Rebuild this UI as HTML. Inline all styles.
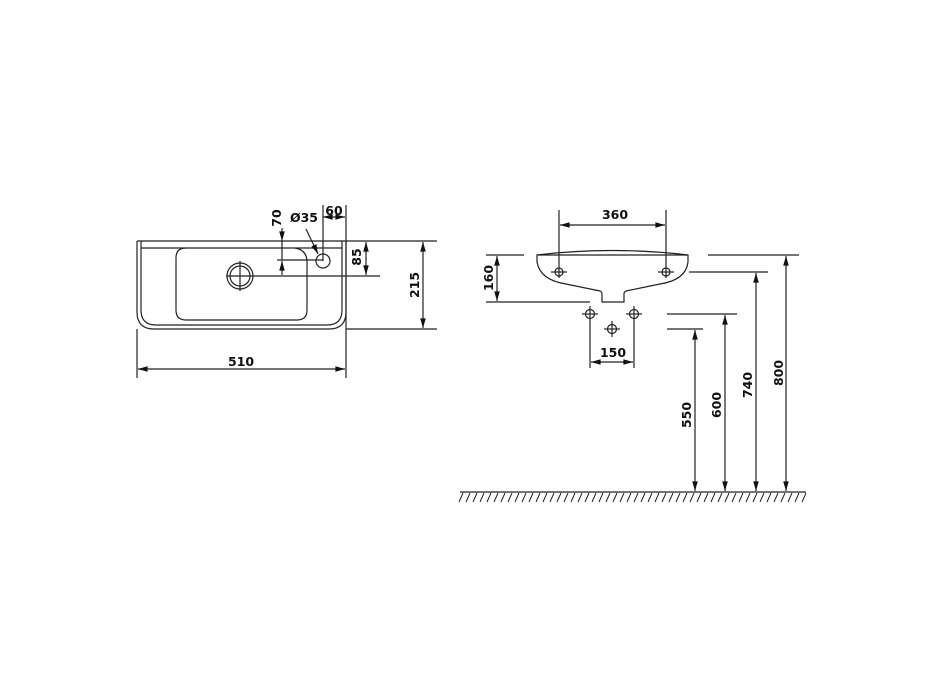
<!DOCTYPE html>
<html><head><meta charset="utf-8"><style>
html,body{margin:0;padding:0;background:#fff;}
svg{display:block;}
text{font-family:"DejaVu Sans","Liberation Sans",sans-serif;font-size:12.5px;font-weight:bold;fill:#111;}
</style></head><body>
<svg width="928" height="686" viewBox="0 0 928 686" xmlns="http://www.w3.org/2000/svg">
<defs>
<marker id="a" viewBox="0 0 12 10" refX="12" refY="5" markerWidth="10" markerHeight="8" orient="auto-start-reverse" markerUnits="userSpaceOnUse"><path d="M0,1.5 L12,5 L0,8.5 z" fill="#111"/></marker>
</defs>
<g stroke="#222" stroke-width="1.2" fill="none">
<path d="M137,241 L137,312 Q137,329 154,329 L329,329 Q346,329 346,312 L346,241"/>
<path d="M141,241 L141,310 Q141,325 156,325 L327,325 Q342,325 342,310 L342,241"/>
<line x1="141" y1="248" x2="342" y2="248"/>
<path d="M186,248 Q176,248 176,258 L176,310 Q176,320 186,320 L297,320 Q307,320 307,310 L307,262 Q307,250 295,248"/>
<circle cx="240" cy="276" r="13"/>
<circle cx="240" cy="276" r="10"/>
<line x1="240" y1="261" x2="240" y2="291"/>
<line x1="226" y1="276" x2="380" y2="276"/>
<circle cx="323" cy="261" r="7"/>
<line x1="137" y1="241" x2="437" y2="241"/>
<line x1="346" y1="329" x2="437" y2="329"/>
<line x1="137" y1="329" x2="137" y2="378"/>
<line x1="346" y1="205" x2="346" y2="378"/>
<line x1="323" y1="205" x2="323" y2="261"/>
<line x1="277" y1="260" x2="323" y2="260"/>
<line x1="138" y1="369" x2="345" y2="369" marker-start="url(#a)" marker-end="url(#a)"/>
<line x1="423" y1="242" x2="423" y2="328" marker-start="url(#a)" marker-end="url(#a)"/>
<line x1="366" y1="242" x2="366" y2="275" marker-start="url(#a)" marker-end="url(#a)"/>
<line x1="323" y1="217" x2="345" y2="217" marker-start="url(#a)" marker-end="url(#a)"/>
<line x1="282" y1="228" x2="282" y2="241" marker-end="url(#a)"/>
<line x1="282" y1="275" x2="282" y2="261" marker-end="url(#a)"/>
<line x1="282" y1="241" x2="282" y2="260"/>
<line x1="306" y1="229" x2="318" y2="254" marker-end="url(#a)"/>
<path d="M537,255 Q612,246 688,255 L688,262 Q686,280 660,284 L626,291 Q624,292 624,294 L624,302 L602,302 L602,294 Q602,292 600,291 L566,284 Q540,280 537,262 Z"/>
<line x1="537" y1="255" x2="688" y2="255"/>
<line x1="559" y1="210" x2="559" y2="278"/>
<line x1="666" y1="210" x2="666" y2="278"/>
<line x1="560" y1="225" x2="665" y2="225" marker-start="url(#a)" marker-end="url(#a)"/>
<circle cx="559" cy="272" r="4"/><line x1="551" y1="272" x2="567" y2="272"/>
<circle cx="666" cy="272" r="4"/><line x1="658" y1="272" x2="674" y2="272"/>
<line x1="486" y1="255" x2="524" y2="255"/>
<line x1="486" y1="302" x2="590" y2="302"/>
<line x1="497" y1="256" x2="497" y2="301" marker-start="url(#a)" marker-end="url(#a)"/>
<circle cx="590" cy="314" r="4.5"/><line x1="582" y1="314" x2="598" y2="314"/><line x1="590" y1="306" x2="590" y2="368"/>
<circle cx="634" cy="314" r="4.5"/><line x1="626" y1="314" x2="642" y2="314"/><line x1="634" y1="306" x2="634" y2="368"/>
<circle cx="612" cy="329" r="4.5"/><line x1="604" y1="329" x2="620" y2="329"/><line x1="612" y1="321" x2="612" y2="337"/>
<line x1="591" y1="362" x2="633" y2="362" marker-start="url(#a)" marker-end="url(#a)"/>
<line x1="708" y1="255" x2="799" y2="255"/>
<line x1="689" y1="272" x2="768" y2="272"/>
<line x1="667" y1="314" x2="737" y2="314"/>
<line x1="667" y1="329" x2="703" y2="329"/>
<line x1="786" y1="256" x2="786" y2="491" marker-start="url(#a)" marker-end="url(#a)"/>
<line x1="756" y1="273" x2="756" y2="491" marker-start="url(#a)" marker-end="url(#a)"/>
<line x1="725" y1="315" x2="725" y2="491" marker-start="url(#a)" marker-end="url(#a)"/>
<line x1="695" y1="330" x2="695" y2="491" marker-start="url(#a)" marker-end="url(#a)"/>
<line x1="460" y1="492" x2="806" y2="492"/>
<path stroke-width="1" d="M463,493 l-4,9 M470,493 l-4,9 M477,493 l-4,9 M484,493 l-4,9 M491,493 l-4,9 M498,493 l-4,9 M505,493 l-4,9 M512,493 l-4,9 M519,493 l-4,9 M526,493 l-4,9 M533,493 l-4,9 M540,493 l-4,9 M547,493 l-4,9 M554,493 l-4,9 M561,493 l-4,9 M568,493 l-4,9 M575,493 l-4,9 M582,493 l-4,9 M589,493 l-4,9 M596,493 l-4,9 M603,493 l-4,9 M610,493 l-4,9 M617,493 l-4,9 M624,493 l-4,9 M631,493 l-4,9 M638,493 l-4,9 M645,493 l-4,9 M652,493 l-4,9 M659,493 l-4,9 M666,493 l-4,9 M673,493 l-4,9 M680,493 l-4,9 M687,493 l-4,9 M694,493 l-4,9 M701,493 l-4,9 M708,493 l-4,9 M715,493 l-4,9 M722,493 l-4,9 M729,493 l-4,9 M736,493 l-4,9 M743,493 l-4,9 M750,493 l-4,9 M757,493 l-4,9 M764,493 l-4,9 M771,493 l-4,9 M778,493 l-4,9 M785,493 l-4,9 M792,493 l-4,9 M799,493 l-4,9 M806,493 l-4,9"/>
</g>
<text x="241" y="366" text-anchor="middle">510</text>
<text x="334" y="215" text-anchor="middle">60</text>
<text x="304" y="222" text-anchor="middle">Ø35</text>
<text transform="translate(281,218) rotate(-90)" text-anchor="middle">70</text>
<text transform="translate(361,257) rotate(-90)" text-anchor="middle">85</text>
<text transform="translate(419,285) rotate(-90)" text-anchor="middle">215</text>
<text x="615" y="219" text-anchor="middle">360</text>
<text transform="translate(493,278) rotate(-90)" text-anchor="middle">160</text>
<text x="613" y="357" text-anchor="middle">150</text>
<text transform="translate(691,415) rotate(-90)" text-anchor="middle">550</text>
<text transform="translate(721,405) rotate(-90)" text-anchor="middle">600</text>
<text transform="translate(752,385) rotate(-90)" text-anchor="middle">740</text>
<text transform="translate(783,373) rotate(-90)" text-anchor="middle">800</text>
</svg>
</body></html>
